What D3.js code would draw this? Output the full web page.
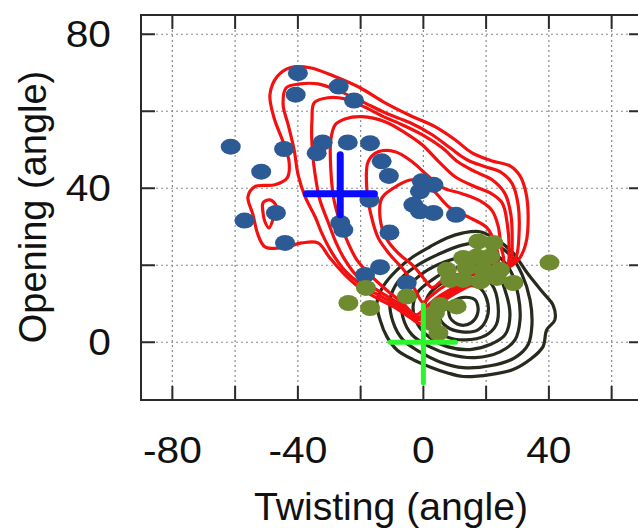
<!DOCTYPE html>
<html><head><meta charset="utf-8">
<script src="https://cdn.jsdelivr.net/npm/d3@7"></script>
<style>html,body{margin:0;padding:0;background:#fff;}svg{display:block;}</style>
</head><body>
<script>
// ---- data (angles) ----
const xTicks = [-80,-60,-40,-20,0,20,40,60];
const xTickLabels = [-80,-40,0,40];
const yTicks = [0,20,40,60,80];
const yTickLabels = [0,40,80];

const bluePoints = [
  [-40.0,69.9],[-40.7,64.3],[-27.0,66.4],[-22.1,62.8],[-61.4,50.8],[-44.4,50.2],
  [-51.7,44.3],[-32.1,51.9],[-34.0,49.1],[-24.1,51.9],[-17.0,51.7],[-13.3,47.0],
  [-11.0,43.2],[-0.5,41.8],[3.2,40.9],[-1.1,39.2],[-17.2,37.0],[-57.0,31.6],
  [-47.0,33.6],[-44.1,25.8],[-26.5,31.0],[-25.5,29.2],[-10.8,28.5],[-3.2,35.7],
  [-1.1,34.0],[3.2,33.6],[10.4,33.1],[-13.8,19.5],[-18.6,17.5],[-5.3,15.4]
];
const greenPoints = [
  [17.5,26.2],[22.3,25.8],[12.7,21.9],[17.0,22.3],[21.3,22.3],[7.5,18.8],
  [13.8,19.3],[19.1,18.8],[24.4,18.8],[8.5,16.2],[12.7,16.2],[18.1,15.8],
  [23.4,16.7],[28.7,15.4],[40.2,20.7],[-18.3,14.1],[-23.9,10.2],[-17.0,8.9],
  [-5.3,11.9],[10.6,9.3],[5.3,9.7],[3.7,7.6],[2.7,5.0],[4.8,2.4]
];
// mean and ranges of the two groups
const blueCross = {x:-26.5, y:38.6, x0:-37.3, x1:-15.6, y0:33.1, y1:48.7};
const greenCross = {x:0, y:0, x0:-10.6, x1:10.2, y0:-10.5, y1:9.7};

// red density contours (blue group)
const red1 = [[-42.5,71.3],[-36.1,71.3],[-28.2,69.0],[-20.2,66.1],[-12.2,62.2],[-4.2,58.9],[3.7,56.0],[10.1,52.6],[15.5,49.2],[21.9,47.1],[27.6,45.8],[30.8,43.2],[32.7,38.8],[33.4,32.6],[32.7,25.8],[30.8,22.0],[27.6,19.6],[21.3,17.0],[13.3,14.1],[6.9,11.0],[2.8,7.6],[-0.7,4.8],[-4.2,6.4],[-9.0,9.0],[-14.4,11.3],[-20.2,14.1],[-25.0,17.5],[-29.8,21.9],[-33.6,25.8],[-38.7,25.8],[-45.1,24.5],[-50.5,24.8],[-52.7,27.9],[-54.3,33.1],[-55.9,37.8],[-53.7,40.4],[-47.3,40.9],[-43.4,42.7],[-42.8,46.9],[-44.7,52.0],[-47.6,58.3],[-48.9,64.3],[-46.6,69.0]];
const red2 = [[-43.7,66.1],[-39.3,67.1],[-33.6,67.1],[-26.5,65.1],[-19.5,62.5],[-12.2,59.6],[-4.2,57.0],[2.8,53.9],[8.5,50.5],[13.9,47.4],[19.7,45.6],[24.4,44.3],[28.3,41.2],[30.2,35.7],[30.5,28.4],[29.5,22.0],[27.0,19.6],[20.6,17.3],[12.7,14.4],[6.3,11.3],[2.1,7.9],[-1.1,5.8],[-4.9,7.7],[-10.0,10.3],[-15.1,12.6],[-20.2,15.2],[-25.0,18.6],[-29.1,23.2],[-32.3,28.2],[-34.5,32.6],[-37.7,37.8],[-39.9,43.4],[-41.2,50.0],[-43.1,56.5],[-44.7,61.7]];
const red3 = [[-34.8,62.2],[-30.4,63.5],[-25.0,63.2],[-19.5,61.4],[-13.2,58.8],[-6.8,56.5],[-0.4,53.9],[6.0,50.5],[11.1,46.8],[16.5,44.3],[21.9,42.2],[26.0,38.6],[27.9,33.1],[28.3,25.8],[27.9,20.9],[26.0,19.3],[20.0,17.3],[12.3,14.7],[6.0,11.8],[1.5,8.4],[-1.7,6.4],[-5.8,9.0],[-11.3,11.8],[-16.3,14.4],[-21.5,17.5],[-25.0,21.4],[-27.8,25.8],[-30.4,31.3],[-33.0,37.0],[-34.5,43.5],[-35.5,51.3],[-35.5,57.8]];
const red4 = [[-28.1,56.5],[-25.0,58.0],[-19.6,58.6],[-12.2,57.3],[-5.8,54.4],[-0.4,51.3],[5.3,46.6],[10.1,43.0],[16.5,40.4],[21.3,38.8],[25.1,36.2],[26.7,31.0],[27.3,24.0],[26.7,20.1],[19.7,17.5],[11.7,14.9],[5.3,12.1],[0.9,9.2],[-2.3,7.1],[-6.8,10.3],[-12.2,13.9],[-17.0,17.5],[-21.2,21.4],[-24.0,25.8],[-26.6,31.3],[-28.5,37.0],[-29.5,44.8],[-29.5,52.6]];
const red5 = [[-17.6,46.9],[-14.4,49.5],[-9.0,49.5],[-3.6,46.9],[1.5,43.2],[6.3,40.1],[12.3,38.6],[18.1,36.7],[21.9,34.2],[23.8,30.3],[24.7,25.1],[25.4,20.6],[19.7,18.8],[12.3,16.8],[6.3,14.4],[2.1,11.8],[-0.1,10.3],[-2.3,13.1],[-5.8,18.3],[-10.6,22.7],[-14.4,27.1],[-16.7,33.1],[-18.0,39.6]];
const red6 = [[-13.2,37.5],[-8.4,40.6],[-3.3,42.2],[2.8,39.6],[8.5,34.9],[14.9,32.3],[20.3,29.7],[22.9,25.3],[23.8,20.9],[18.1,19.3],[11.7,17.8],[6.3,16.2],[2.8,14.2],[0.5,16.2],[-3.3,19.9],[-8.1,23.2],[-11.9,27.1],[-13.8,32.3]];
const redLoop = [[-51.1,36.2],[-48.9,37.0],[-47.0,35.5],[-47.6,32.9],[-49.2,29.7],[-50.5,31.3],[-51.1,33.6]];
const redContours = [red1, red2, red3, red4, red5, red6, redLoop];

// black density contours (green group)
const black1 = [[12.7,28.4],[18.1,28.7],[23.5,26.6],[28.6,23.2],[33.0,18.1],[38.1,12.9],[41.3,9.7],[41.9,5.8],[39.3,3.2],[38.1,-1.2],[34.0,-4.5],[28.6,-7.1],[21.3,-8.4],[12.7,-8.9],[7.5,-7.9],[2.1,-6.4],[-3.3,-4.5],[-8.4,-2.0],[-11.6,1.4],[-13.8,5.8],[-14.8,10.3],[-12.9,14.4],[-8.4,18.8],[-3.3,22.2],[2.1,24.8],[7.5,27.1]];
const black2 = [[4.4,22.7],[12.7,25.3],[21.3,25.8],[27.6,22.7],[31.5,17.5],[34.0,11.0],[34.6,4.5],[33.4,-0.6],[29.2,-4.0],[21.3,-6.1],[12.7,-6.6],[5.3,-5.1],[-1.1,-2.5],[-6.5,0.6],[-9.7,5.3],[-10.6,11.0],[-8.1,15.7],[-2.6,19.6]];
const black3 = [[6.9,20.9],[14.9,22.7],[22.9,22.7],[27.6,18.8],[30.2,12.3],[30.8,5.8],[29.2,0.6],[24.4,-2.5],[16.5,-4.0],[8.5,-3.2],[2.1,-1.2],[-3.6,1.9],[-6.5,6.4],[-6.8,11.0],[-4.2,14.9],[0.5,18.3]];
const black4 = [[8.5,18.8],[16.5,20.1],[22.9,18.8],[26.0,13.6],[27.6,7.1],[26.0,1.9],[21.3,-0.6],[14.9,-1.9],[7.9,-1.2],[2.1,1.2],[-1.7,4.5],[-3.3,9.0],[-1.7,13.1],[2.8,16.2]];
const black5 = [[10.1,16.8],[17.4,17.5],[21.9,14.9],[23.8,9.7],[23.2,4.5],[19.7,1.7],[13.3,0.6],[7.5,1.4],[3.1,4.0],[0.5,7.6],[1.2,11.6],[4.7,14.7]];
const black6 = [[11.7,14.4],[17.4,14.4],[20.3,11.0],[20.3,6.4],[17.4,3.2],[12.3,2.7],[7.5,4.0],[4.7,7.1],[4.7,10.5],[7.5,13.1]];
const black7 = [[12.3,11.6],[16.5,11.0],[17.4,7.9],[15.3,5.1],[11.7,4.5],[8.5,6.4],[8.5,9.7]];
const blackContours = [black1, black2, black3, black4, black5, black6, black7];

// ---- drawing ----
const W = 638, H = 528;
const svg = d3.select("body").append("svg").attr("width", W).attr("height", H);
const x = d3.scaleLinear().domain([-90, 70]).range([141, 643]);
const y = d3.scaleLinear().domain([-15, 85]).range([400, 15]);
const font = "Liberation Sans, Arial, Helvetica, sans-serif";

svg.append("defs").append("clipPath").attr("id","clip")
  .append("rect").attr("x",141).attr("y",15).attr("width",502).attr("height",385);

// grid
const grid = svg.append("g");
grid.selectAll("line.gx").data(xTicks).join("line")
  .attr("x1", d=>x(d)).attr("x2", d=>x(d)).attr("y1", y(85)).attr("y2", y(-15))
  .attr("stroke","#8a8a8a").attr("stroke-width",1.2).attr("stroke-dasharray","2,3");
grid.selectAll("line.gy").data(yTicks).join("line")
  .attr("y1", d=>y(d)).attr("y2", d=>y(d)).attr("x1", x(-90)).attr("x2", x(70))
  .attr("stroke","#8a8a8a").attr("stroke-width",1.2).attr("stroke-dasharray","2,3");

const plot = svg.append("g").attr("clip-path","url(#clip)");
const line = d3.line().x(d=>x(d[0])).y(d=>y(d[1])).curve(d3.curveCatmullRomClosed.alpha(0.5));

plot.selectAll("path.black").data(blackContours).join("path")
  .attr("d", line).attr("fill","none").attr("stroke","#272b1e").attr("stroke-width",3.2);
plot.selectAll("path.red").data(redContours).join("path")
  .attr("d", line).attr("fill","none").attr("stroke","#f41010").attr("stroke-width",3.2);

plot.selectAll("ellipse.blue").data(bluePoints).join("ellipse")
  .attr("cx", d=>x(d[0])).attr("cy", d=>y(d[1])).attr("rx",10).attr("ry",8)
  .attr("fill","#2c5a94");
plot.selectAll("ellipse.green").data(greenPoints).join("ellipse")
  .attr("cx", d=>x(d[0])).attr("cy", d=>y(d[1])).attr("rx",10).attr("ry",8)
  .attr("fill","#6e8b30");

function cross(c, color, w) {
  plot.append("line").attr("x1",x(c.x0)).attr("x2",x(c.x1)).attr("y1",y(c.y)).attr("y2",y(c.y))
    .attr("stroke",color).attr("stroke-width",w).attr("stroke-linecap","round");
  plot.append("line").attr("x1",x(c.x)).attr("x2",x(c.x)).attr("y1",y(c.y0)).attr("y2",y(c.y1))
    .attr("stroke",color).attr("stroke-width",w).attr("stroke-linecap","round");
}
cross(blueCross, "#0a0aff", 7);
cross(greenCross, "#2cf52c", 5);

// frame
svg.append("rect").attr("x",141).attr("y",15).attr("width",502).attr("height",385)
  .attr("fill","none").attr("stroke","#2a2a2a").attr("stroke-width",2);

// ticks (inward, all sides)
const tk = svg.append("g").attr("stroke","#2a2a2a").attr("stroke-width",2);
xTicks.forEach(t=>{
  tk.append("line").attr("x1",x(t)).attr("x2",x(t)).attr("y1",400).attr("y2",386);
  tk.append("line").attr("x1",x(t)).attr("x2",x(t)).attr("y1",15).attr("y2",29);
});
yTicks.forEach(t=>{
  tk.append("line").attr("y1",y(t)).attr("y2",y(t)).attr("x1",141).attr("x2",155);
  tk.append("line").attr("y1",y(t)).attr("y2",y(t)).attr("x1",643).attr("x2",629);
});

// tick labels
svg.selectAll("text.xl").data(xTickLabels).join("text")
  .attr("transform", d=>`translate(${x(d)},463) scale(1.1,1)`).attr("text-anchor","middle")
  .attr("font-family",font).attr("font-size",37).attr("fill","#111").text(d=>d);
svg.selectAll("text.yl").data(yTickLabels).join("text")
  .attr("transform", d=>`translate(111,${y(d)+13}) scale(1.1,1)`).attr("text-anchor","end")
  .attr("font-family",font).attr("font-size",37).attr("fill","#111").text(d=>d);

// axis titles
svg.append("text").attr("transform","translate(391,520) scale(1.03,1)").attr("text-anchor","middle")
  .attr("font-family",font).attr("font-size",38).attr("fill","#111").text("Twisting (angle)");
svg.append("text").attr("transform","translate(46,207) rotate(-90) scale(1.0,1.03)").attr("text-anchor","middle")
  .attr("font-family",font).attr("font-size",38).attr("fill","#111").text("Opening (angle)");
</script>
</body></html>
